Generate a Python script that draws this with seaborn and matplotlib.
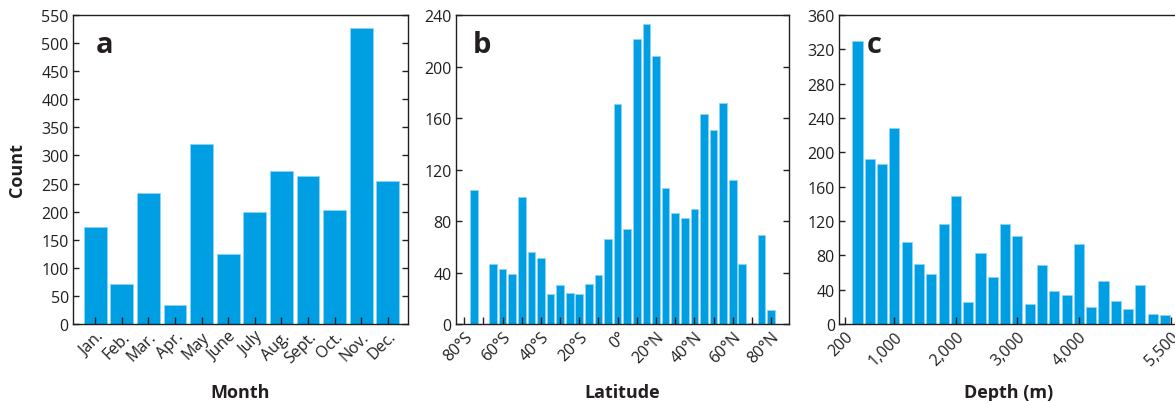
import matplotlib
matplotlib.use("Agg")
import matplotlib.pyplot as plt
import seaborn as sns

# panel a: records per month
months = ['Jan.', 'Feb.', 'Mar.', 'Apr.', 'May', 'June', 'July', 'Aug.', 'Sept.', 'Oct.', 'Nov.', 'Dec.']
month_counts = [172, 72, 234, 33, 320, 125, 200, 272, 264, 203, 527, 254]

# panel b: records per 5 degree latitude band (negative = south)
lat_bins = [-75, -70, -65, -60, -55, -50, -45, -40, -35, -30, -25, -20, -15, -10, -5, 0,
            5, 10, 15, 20, 25, 30, 35, 40, 45, 50, 55, 60, 65, 70, 75, 80]
lat_counts = [104, 0, 47, 43, 39, 99, 56, 51, 23, 30, 24, 23, 31, 38, 66, 171,
              74, 221, 233, 208, 106, 86, 82, 89, 163, 151, 172, 112, 47, 1, 69, 11]
lat_ticks = [-80, -60, -40, -20, 0, 20, 40, 60, 80]
lat_labels = ['80°S', '60°S', '40°S', '20°S', '0°', '20°N', '40°N', '60°N', '80°N']

# panel c: records per 200 m depth bin
depth_bins = [400, 600, 800, 1000, 1200, 1400, 1600, 1800, 2000, 2200, 2400, 2600, 2800,
              3000, 3200, 3400, 3600, 3800, 4000, 4200, 4400, 4600, 4800, 5000, 5200, 5400]
depth_counts = [330, 192, 186, 228, 96, 70, 58, 116, 149, 26, 83, 55, 116,
                102, 23, 69, 39, 34, 93, 20, 50, 27, 18, 46, 12, 10]
depth_ticks = [200, 1000, 2000, 3000, 4000, 5500]
depth_labels = ['200', '1,000', '2,000', '3,000', '4,000', '5,500']

sns.set_theme(style='ticks')
plt.rcParams['font.family'] = ['Open Sans', 'DejaVu Sans']

DARK = '#231f20'
BLUE = '#009fe3'
EDGE = '#8ed4f4'

fig = plt.figure(figsize=(11.75, 4.02), dpi=100)
ax_a = fig.add_axes([0.0621, 0.1915, 0.2851, 0.7687])
ax_b = fig.add_axes([0.3878, 0.1915, 0.2839, 0.7687])
ax_c = fig.add_axes([0.7141, 0.1915, 0.2879, 0.7687])

bar_kw = dict(color=BLUE, saturation=1, errorbar=None, edgecolor=EDGE, linewidth=0.6)

sns.barplot(x=months, y=month_counts, ax=ax_a, width=0.86, **bar_kw)
sns.barplot(x=lat_bins, y=lat_counts, ax=ax_b, native_scale=True, width=0.8, **bar_kw)
sns.barplot(x=depth_bins, y=depth_counts, ax=ax_c, native_scale=True, width=0.82, **bar_kw)

ax_a.set_xlim(-0.84, 11.76)
ax_a.set_ylim(0, 550)
ax_a.set_yticks(range(0, 551, 50))

ax_b.set_xlim(-84.5, 89.5)
ax_b.set_ylim(0, 240)
ax_b.set_yticks(range(0, 241, 40))
ax_b.set_xticks(lat_ticks)
ax_b.set_xticklabels(lat_labels)
ax_b.set_xticks(range(-70, 90, 20), minor=True)

ax_c.set_xlim(100, 5600)
ax_c.set_ylim(0, 360)
ax_c.set_yticks(range(0, 361, 40))
ax_c.set_xticks(depth_ticks)
ax_c.set_xticklabels(depth_labels)

for ax, lab, letter, lx in [(ax_a, 'Month', 'a', 0.069), (ax_b, 'Latitude', 'b', 0.052),
                            (ax_c, 'Depth (m)', 'c', 0.083)]:
    for s in ax.spines.values():
        s.set_color(DARK)
        s.set_linewidth(1.0)
    ax.tick_params(which='both', direction='in', length=4, width=1, color=DARK,
                   labelcolor=DARK, labelsize=11.5, right=True, top=False, pad=3)
    ax.tick_params(axis='x', which='both', length=5)
    plt.setp(ax.get_xticklabels(), rotation=45, ha='right', va='top', rotation_mode='anchor')
    ax.set_xlabel(lab, fontsize=13, fontweight='bold', color=DARK)
    ax.xaxis.set_label_coords(0.5, -0.19)
    ax.set_ylabel('')
    ax.text(lx, 0.88, letter, transform=ax.transAxes, fontsize=21, fontweight='bold',
            color=DARK, va='baseline')
    ax.set_axisbelow(False)

ax_c.spines['right'].set_visible(False)
ax_c.tick_params(right=False)

ax_a.set_ylabel('Count', fontsize=13, fontweight='bold', color=DARK)
ax_a.yaxis.set_label_coords(-0.14, 0.5)

fig.savefig('out.png', dpi=100)
